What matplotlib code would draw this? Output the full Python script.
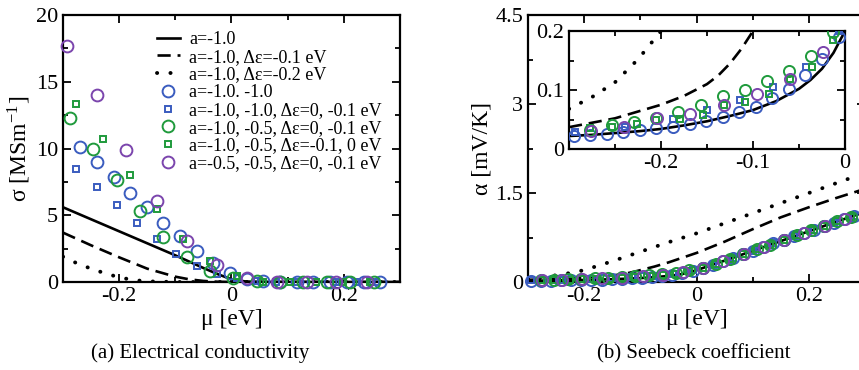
import matplotlib
matplotlib.use("Agg")
import matplotlib.pyplot as plt
from matplotlib.ticker import MultipleLocator

plt.rcParams['font.family'] = ['Liberation Serif', 'DejaVu Serif']
plt.rcParams['mathtext.fontset'] = 'stix'

BLUE = '#3a5cbf'
GREEN = '#1f9a3c'
PURPLE = '#7b45ad'

# ---- (a) conductivity data ----
sig_line_x = [-0.3, -0.25, -0.2, -0.15, -0.1, -0.05, -0.025, 0.0, 0.025, 0.05, 0.3]
sig_line_y = [5.6, 4.7, 3.8, 2.9, 2.0, 1.05, 0.6, 0.2, 0.04, 0.0, 0.0]
sig_dash_x = [-0.3, -0.25, -0.2, -0.15, -0.1, -0.075, -0.05, -0.025, 0.0, 0.3]
sig_dash_y = [3.7, 2.75, 1.85, 1.0, 0.4, 0.2, 0.08, 0.02, 0.0, 0.0]
sig_dot_x = [-0.3, -0.275, -0.25, -0.225, -0.2, -0.175, -0.15, -0.1, 0.3]
sig_dot_y = [1.9, 1.4, 1.0, 0.65, 0.35, 0.15, 0.05, 0.0, 0.0]

sig_bc_x = [-0.27, -0.24, -0.21, -0.18, -0.151, -0.121, -0.092, -0.061, -0.032, -0.003,
            0.027, 0.057, 0.087, 0.116, 0.146, 0.176, 0.206, 0.236, 0.265]
sig_bc_y = [10.1, 9.0, 7.9, 6.7, 5.65, 4.45, 3.45, 2.35, 1.4, 0.65,
            0.2, 0.05, 0.01, 0, 0, 0, 0, 0, 0]
sig_bs_x = [-0.276, -0.24, -0.204, -0.169, -0.133, -0.098, -0.062, -0.026, 0.009,
            0.045, 0.08, 0.116, 0.151, 0.187, 0.223, 0.258]
sig_bs_y = [8.45, 7.1, 5.8, 4.45, 3.2, 2.07, 1.22, 0.6, 0.28, 0.05, 0, 0, 0, 0, 0, 0]
sig_gc_x = [-0.288, -0.246, -0.204, -0.163, -0.121, -0.079, -0.038, 0.003, 0.045,
            0.087, 0.128, 0.17, 0.211, 0.253]
sig_gc_y = [12.3, 10.0, 7.65, 5.35, 3.35, 1.85, 0.8, 0.28, 0.04, 0, 0, 0, 0, 0]
sig_gs_x = [-0.276, -0.228, -0.181, -0.133, -0.086, -0.038, 0.009, 0.056, 0.104,
            0.151, 0.199, 0.246]
sig_gs_y = [13.3, 10.7, 8.0, 5.5, 3.2, 1.55, 0.42, 0.03, 0, 0, 0, 0]
sig_pc_x = [-0.293, -0.24, -0.187, -0.133, -0.079, -0.026, 0.027, 0.081, 0.134, 0.187, 0.241]
sig_pc_y = [17.7, 14.0, 9.9, 6.1, 3.1, 1.25, 0.28, 0.03, 0, 0, 0]

# ---- (b) Seebeck data ----
al_line_x = [-0.3, -0.275, -0.25, -0.225, -0.2, -0.175, -0.15, -0.125, -0.1, -0.075,
             -0.05, -0.0375, -0.025, -0.0125, 0.0, 0.025, 0.05, 0.1, 0.15, 0.2, 0.25, 0.3]
al_line_y = [0.022, 0.024, 0.027, 0.030, 0.034, 0.040, 0.047, 0.056, 0.066, 0.081,
             0.102, 0.117, 0.136, 0.163, 0.2, 0.28, 0.36, 0.525, 0.69, 0.855, 1.02, 1.18]
al_dash_x = [-0.3, -0.25, -0.2, -0.175, -0.15, -0.1375, -0.125, -0.1125, -0.1, -0.075,
             -0.05, -0.025, 0.0, 0.05, 0.1, 0.15, 0.2, 0.25, 0.3]
al_dash_y = [0.037, 0.052, 0.075, 0.09, 0.11, 0.125, 0.145, 0.17, 0.2, 0.26,
             0.33, 0.41, 0.49, 0.68, 0.89, 1.09, 1.26, 1.42, 1.57]
al_dot_x = [-0.3, -0.275, -0.25, -0.225, -0.2, -0.15, -0.1, -0.05, 0.0, 0.05, 0.1,
            0.15, 0.2, 0.25, 0.3]
al_dot_y = [0.068, 0.088, 0.113, 0.152, 0.2, 0.35, 0.51, 0.67, 0.82, 0.99, 1.16,
            1.33, 1.5, 1.67, 1.84]

al_bc_x = [-0.295, -0.277, -0.259, -0.241, -0.223, -0.205, -0.187, -0.169, -0.151, -0.133,
           -0.115, -0.097, -0.079, -0.061, -0.043, -0.025, -0.007, 0.011, 0.029, 0.047,
           0.065, 0.083, 0.101, 0.119, 0.137, 0.155, 0.173, 0.191, 0.209, 0.227, 0.245,
           0.263, 0.281]
al_bc_y = [0.022, 0.024, 0.025, 0.029, 0.032, 0.035, 0.038, 0.042, 0.047, 0.054,
           0.062, 0.072, 0.086, 0.102, 0.125, 0.152, 0.19, 0.235, 0.29, 0.35,
           0.41, 0.47, 0.53, 0.59, 0.65, 0.71, 0.77, 0.83, 0.88, 0.94, 1.0,
           1.06, 1.12]
al_bs_x = [-0.294, -0.239, -0.187, -0.15, -0.114, -0.078, -0.042, -0.007, 0.029, 0.065,
           0.101, 0.137, 0.173, 0.209, 0.245, 0.281]
al_bs_y = [0.029, 0.038, 0.051, 0.066, 0.083, 0.105, 0.139, 0.2, 0.29, 0.41,
           0.53, 0.65, 0.77, 0.88, 1.0, 1.12]
al_gc_x = [-0.277, -0.253, -0.229, -0.205, -0.181, -0.157, -0.133, -0.109, -0.085, -0.061,
           -0.037, -0.013, 0.011, 0.035, 0.059, 0.083, 0.107, 0.131, 0.155, 0.179,
           0.203, 0.227, 0.251, 0.275]
al_gc_y = [0.033, 0.040, 0.046, 0.053, 0.062, 0.074, 0.089, 0.100, 0.115, 0.133,
           0.157, 0.198, 0.24, 0.31, 0.39, 0.47, 0.55, 0.63, 0.71, 0.79,
           0.87, 0.94, 1.02, 1.10]
al_gs_x = [-0.277, -0.253, -0.226, -0.205, -0.179, -0.154, -0.132, -0.109, -0.083, -0.06,
           -0.036, -0.013, 0.011, 0.035, 0.059, 0.083, 0.107, 0.131, 0.155, 0.179,
           0.203, 0.227, 0.251, 0.275]
al_gs_y = [0.035, 0.038, 0.042, 0.049, 0.051, 0.058, 0.075, 0.08, 0.093, 0.118,
           0.139, 0.185, 0.24, 0.31, 0.39, 0.47, 0.55, 0.63, 0.71, 0.79,
           0.87, 0.94, 1.02, 1.10]
al_pc_x = [-0.276, -0.240, -0.204, -0.168, -0.132, -0.096, -0.060, -0.024, 0.012, 0.048,
           0.084, 0.12, 0.156, 0.192, 0.228, 0.264]
al_pc_y = [0.031, 0.038, 0.052, 0.06, 0.075, 0.094, 0.119, 0.165, 0.24, 0.36,
           0.47, 0.59, 0.71, 0.83, 0.94, 1.06]

labels = ['a=-1.0', 'a=-1.0, Δε=-0.1 eV', 'a=-1.0, Δε=-0.2 eV', 'a=-1.0. -1.0',
          'a=-1.0, -1.0, Δε=0, -0.1 eV', 'a=-1.0, -0.5, Δε=0, -0.1 eV',
          'a=-1.0, -0.5, Δε=-0.1, 0 eV', 'a=-0.5, -0.5, Δε=0, -0.1 eV']

LW = 1.9
DASH = (0, (5, 2.6))
DOT = (0, (0.05, 3.4))


def draw_set(ax, lines, pts, ms_c=8.5, ms_s=4.6):
    (lx, ly), (dx, dy), (ox, oy) = lines
    ax.plot(lx, ly, color='k', lw=LW, label=labels[0])
    ax.plot(dx, dy, color='k', lw=LW, ls=DASH, label=labels[1])
    ax.plot(ox, oy, color='k', lw=2.8, ls=DOT, dash_capstyle='round', label=labels[2])
    styles = [('o', BLUE, ms_c), ('s', BLUE, ms_s), ('o', GREEN, ms_c),
              ('s', GREEN, ms_s), ('o', PURPLE, ms_c)]
    for (px, py), (m, c, ms), lab in zip(pts, styles, labels[3:]):
        ax.plot(px, py, ls='none', marker=m, ms=ms, mfc='none', mec=c,
                mew=1.4, label=lab, clip_on=False, zorder=3)


def style_axes(ax, size=16):
    ax.tick_params(which='both', direction='in', top=True, right=True,
                   labelsize=size, width=1.3)
    ax.tick_params(which='major', length=6)
    ax.tick_params(which='minor', length=3.5)
    for s in ax.spines.values():
        s.set_linewidth(1.6)


fig = plt.figure(figsize=(8.59, 3.70), dpi=100)

# ---- panel (a) ----
ax1 = fig.add_axes([0.0733, 0.2378, 0.3923, 0.7216])
draw_set(ax1,
         [(sig_line_x, sig_line_y), (sig_dash_x, sig_dash_y), (sig_dot_x, sig_dot_y)],
         [(sig_bc_x, sig_bc_y), (sig_bs_x, sig_bs_y), (sig_gc_x, sig_gc_y),
          (sig_gs_x, sig_gs_y), (sig_pc_x, sig_pc_y)])
ax1.set_xlim(-0.3, 0.3)
ax1.set_ylim(0, 20)
ax1.set_xticks([-0.2, 0, 0.2])
ax1.set_xticklabels(['-0.2', '0', '0.2'])
ax1.set_yticks([0, 5, 10, 15, 20])
ax1.xaxis.set_minor_locator(MultipleLocator(0.1))
ax1.yaxis.set_minor_locator(MultipleLocator(2.5))
style_axes(ax1)
ax1.set_xlabel('μ [eV]', fontsize=17, labelpad=2)
ax1.set_ylabel('σ [MSm$^{\\mathregular{-1}}$]', fontsize=17, labelpad=2)
ax1.legend(loc='upper left', bbox_to_anchor=(0.278, 0.94), frameon=False,
           fontsize=13, handlelength=1.3, handletextpad=0.5, labelspacing=0.04,
           borderpad=0, borderaxespad=0, numpoints=1)

# ---- panel (b) ----
ax2 = fig.add_axes([0.6147, 0.2378, 0.3923, 0.7216])
b_lines = [(al_line_x, al_line_y), (al_dash_x, al_dash_y), (al_dot_x, al_dot_y)]
b_pts = [(al_bc_x, al_bc_y), (al_bs_x, al_bs_y), (al_gc_x, al_gc_y),
         (al_gs_x, al_gs_y), (al_pc_x, al_pc_y)]
draw_set(ax2, b_lines, b_pts, ms_c=8.0, ms_s=4.5)
ax2.set_xlim(-0.3, 0.3)
ax2.set_ylim(0, 4.5)
ax2.set_xticks([-0.2, 0, 0.2])
ax2.set_xticklabels(['-0.2', '0', '0.2'])
ax2.set_yticks([0, 1.5, 3, 4.5])
ax2.set_yticklabels(['0', '1.5', '3', '4.5'])
ax2.xaxis.set_minor_locator(MultipleLocator(0.1))
ax2.yaxis.set_minor_locator(MultipleLocator(0.75))
style_axes(ax2)
ax2.set_xlabel('μ [eV]', fontsize=17, labelpad=2)
ax2.set_ylabel('α [mV/K]', fontsize=17, labelpad=2)

# inset
ins = fig.add_axes([0.6624, 0.5973, 0.3213, 0.3189])
draw_set(ins, b_lines, b_pts, ms_c=8.0, ms_s=4.5)
ins.set_xlim(-0.3, 0)
ins.set_ylim(0, 0.2)
ins.set_xticks([-0.2, -0.1, 0])
ins.set_xticklabels(['-0.2', '-0.1', '0'])
ins.set_yticks([0, 0.1, 0.2])
ins.set_yticklabels(['0', '0.1', '0.2'])
ins.xaxis.set_minor_locator(MultipleLocator(0.05))
ins.yaxis.set_minor_locator(MultipleLocator(0.05))
style_axes(ins)
for ln in ins.lines:
    ln.set_clip_on(True)

fig.text(0.233, 0.045, '(a) Electrical conductivity', ha='center', va='center', fontsize=15)
fig.text(0.808, 0.045, '(b) Seebeck coefficient', ha='center', va='center', fontsize=15)

fig.savefig('out.png', dpi=100)
